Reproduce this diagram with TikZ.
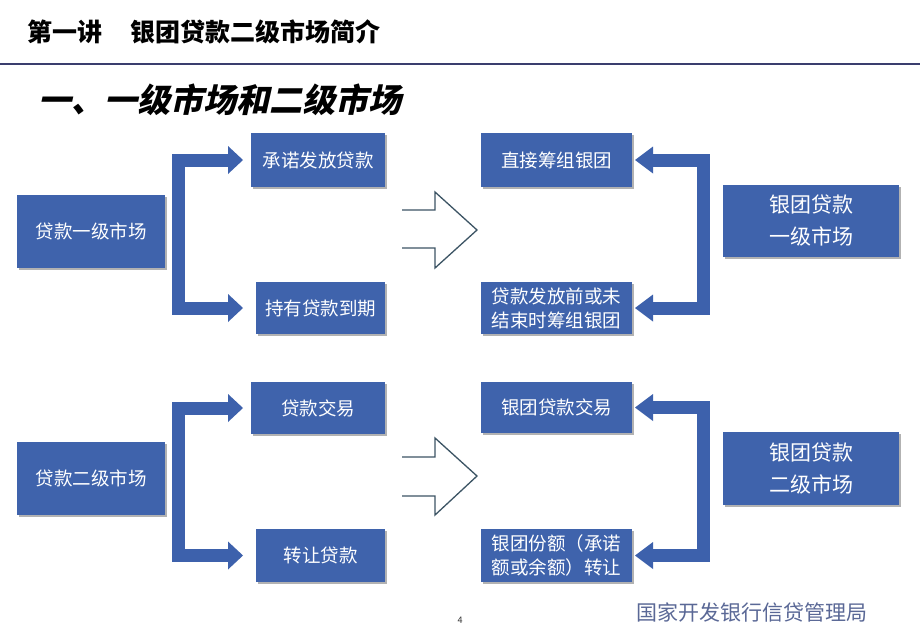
\documentclass[tikz,border=0pt]{standalone}
\usepackage{fontspec}
\setmainfont{Noto Sans CJK SC}
\newfontfamily\cjkslant[FakeSlant=0.22,BoldFeatures={FakeSlant=0.22}]{Noto Sans CJK SC}
\usetikzlibrary{arrows.meta,shadows}
\definecolor{boxblue}{RGB}{63,99,172}
\definecolor{arrblue}{RGB}{61,97,172}
\definecolor{hollowcol}{RGB}{60,84,100}
\definecolor{rulecol}{RGB}{58,62,110}
\definecolor{footcol}{RGB}{90,104,150}
\tikzset{
  box/.style={fill=boxblue, text=white, inner sep=0pt, align=center,
    font=\fontsize{18.5}{24}\selectfont,
    drop shadow={shadow xshift=2pt, shadow yshift=-2pt, opacity=0.3, fill=black}},
  bigbox/.style={box, font=\fontsize{21}{32}\selectfont},
  lbrk/.style={draw=arrblue, line width=13pt, line join=miter,
    {Triangle[length=15pt,width=28pt,line width=0pt]}-{Triangle[length=15pt,width=28pt,line width=0pt]}},
  rbrk/.style={draw=arrblue, line width=13pt, line join=miter,
    {Triangle[length=18pt,width=27pt,line width=0pt]}-{Triangle[length=18pt,width=27pt,line width=0pt]}},
  hollowarrow/.style={draw=hollowcol, line width=1.3pt, fill=white, line join=miter}
}
\begin{document}
\begin{tikzpicture}[x=1pt,y=-1pt]
\useasboundingbox (0,0) rectangle (920,638);
\fill[white] (0,0) rectangle (920,638);

% header
\node[anchor=west, inner sep=0pt, font=\bfseries\fontsize{25}{28}\selectfont] (title) at (27,32) {第一讲\hspace{28pt}银团贷款二级市场简介};
\draw[rulecol, line width=2.5pt] (0,64) -- (920,64);
\node[anchor=west, inner sep=0pt, font=\cjkslant\bfseries\fontsize{33}{36}\selectfont] (sub) at (38,100) {一、一级市场和二级市场};

% shared coordinates
\coordinate (tipL) at (243,0);
\coordinate (tipR) at (635,0);

% group 1
\node[box, minimum width=148pt, minimum height=73pt] (A1) at (91,231.5) {贷款一级市场};
\node[box, minimum width=134pt, minimum height=54pt] (B1) at (318,160) {承诺发放贷款};
\node[box, minimum width=129pt, minimum height=52pt] (C1) at (320.5,308) {持有贷款到期};
\node[box, minimum width=151pt, minimum height=54pt] (D1) at (556.5,160) {直接筹组银团};
\node[box, minimum width=151pt, minimum height=52pt] (E1) at (556.5,308) {贷款发放前或未\\结束时筹组银团};
\node[bigbox, minimum width=176pt, minimum height=72pt] (F1) at (811,221) {银团贷款\\一级市场};

\coordinate (sL1) at (178.5,234);
\coordinate (sR1) at (703.5,234);
\draw[lbrk] (B1.west -| tipL) -| (sL1) |- (C1.west -| tipL);
\draw[rbrk] (D1.east -| tipR) -| (sR1) |- (E1.east -| tipR);

\coordinate (H1) at (477,230);
\begin{scope}[shift={(H1)}]
\draw[hollowarrow] (-75,-20) -- (-42,-20) -- (-42,-38) -- (0,0) -- (-42,38) -- (-42,18) -- (-75,18);
\end{scope}

% group 2
\node[box, minimum width=148pt, minimum height=73pt] (A2) at (91,478.5) {贷款二级市场};
\node[box, minimum width=134pt, minimum height=52pt] (B2) at (318,408) {贷款交易};
\node[box, minimum width=129pt, minimum height=53pt] (C2) at (320.5,555.5) {转让贷款};
\node[box, minimum width=151pt, minimum height=51pt] (D2) at (556.5,407.5) {银团贷款交易};
\node[box, minimum width=151pt, minimum height=53pt] (E2) at (556.5,555.5) {银团份额（承诺\\额或余额）转让};
\node[bigbox, minimum width=176pt, minimum height=73pt] (F2) at (811,468.5) {银团贷款\\二级市场};

\coordinate (sL2) at (178.5,480);
\coordinate (sR2) at (703.5,480);
\draw[lbrk] (B2.west -| tipL) -| (sL2) |- (C2.west -| tipL);
\draw[rbrk] (D2.east -| tipR) -| (sR2) |- (E2.east -| tipR);

\coordinate (H2) at (477,476);
\begin{scope}[shift={(H2)}]
\draw[hollowarrow] (-75,-19) -- (-42,-19) -- (-42,-38) -- (0,0) -- (-42,39) -- (-42,20) -- (-75,20);
\end{scope}

% footer
\node[inner sep=0pt, font=\fontsize{9}{10}\selectfont, text=black!80] (pg) at (460,620) {4};
\node[anchor=west, inner sep=0pt, font=\fontsize{21}{24}\selectfont, text=footcol] (foot) at (636,612) {国家开发银行信贷管理局};
\end{tikzpicture}
\end{document}
